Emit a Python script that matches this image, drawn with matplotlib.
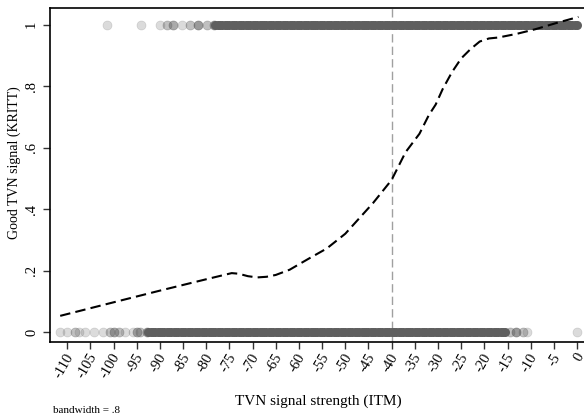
import matplotlib
matplotlib.use("Agg")
import matplotlib.pyplot as plt
import matplotlib.transforms as mtransforms
import numpy as np

# lowess-type fit of good signal on signal strength
curve_x = [-111.5, -100, -90, -80, -74.5, -73, -71, -69, -67, -65, -62, -58, -54, -50,
           -47, -44, -40, -37, -34, -32, -30.5, -29, -27, -25, -23, -21, -19, -17,
           -13, -9, -4.5, 0.3]
curve_y = [0.053, 0.097, 0.135, 0.172, 0.192, 0.19, 0.182, 0.178, 0.18, 0.186, 0.203,
           0.238, 0.272, 0.32, 0.37, 0.42, 0.495, 0.585, 0.645, 0.705, 0.74, 0.79,
           0.845, 0.89, 0.92, 0.945, 0.955, 0.958, 0.97, 0.985, 1.005, 1.025]

# observed signal strengths (value, number of obs) for good = 1 and good = 0
good1_x = [-101.4, -94.0, -89.9, -88.5, -87.1, -85.3, -83.5, -81.7, -79.9, -78.4]
good1_n = [1, 1, 1, 2, 3, 1, 2, 4, 2, 3]
good1_band = (-78, 0)

good0_x = [-111.5, -110.1, -108.3, -107.5, -106.1, -104.3, -102.2, -100.7, -99.8, -98.9,
           -97.5, -95.7, -94.9, -94.3, -92.8, -14.4, -13.1, -11.6, -10.8, 0.0]
good0_n = [1, 1, 2, 1, 1, 1, 1, 2, 3, 2, 1, 1, 3, 2, 3, 2, 4, 2, 1, 1]
good0_band = (-92.5, -15.5)

cutoff = -40
xticks = list(range(-110, 1, 5))
yticks = [0, 0.2, 0.4, 0.6, 0.8, 1]
yticklabels = ["0", ".2", ".4", ".6", ".8", "1"]

plt.rcParams["font.family"] = ["Liberation Serif", "DejaVu Serif"]

fig = plt.figure(figsize=(5.84, 4.18), dpi=100)
ax = fig.add_axes([50 / 584, 1 - 342 / 418, 534 / 584, 334 / 418])

pt_color = "#5f5f5f"
base_alpha = 0.22


def draw_row(xs, ns, band, yval):
    for x, n in zip(xs, ns):
        a = 1 - (1 - base_alpha) ** n
        ax.scatter([x], [yval], s=42, color=pt_color, alpha=a, linewidths=0.5, zorder=2)
    bx = np.arange(band[0], band[1] + 0.01, 0.5)
    ax.scatter(bx, np.full(len(bx), yval), s=42, color=pt_color, linewidths=0, zorder=2)


draw_row(good1_x, good1_n, good1_band, 1)
draw_row(good0_x, good0_n, good0_band, 0)

ax.plot(curve_x, curve_y, color="black", lw=1.5, dashes=(5, 2.5), zorder=3)
ax.axvline(cutoff, color="#a0a0a0", lw=1, dashes=(6, 3), zorder=1)

ax.set_xlim(-113.7, 1.5)
ax.set_ylim(-0.032, 1.054)
ax.set_xticks(xticks)
ax.tick_params(axis="x", labelbottom=False)
# rotated x tick labels, drawn by hand so they can sit a bit left of the tick
lab_tr = ax.get_xaxis_transform() + mtransforms.ScaledTranslation(-2 / 100, -9 / 100, fig.dpi_scale_trans)
for t in xticks:
    ax.text(t, 0, str(t), transform=lab_tr, rotation=60, ha="right", va="top",
            rotation_mode="anchor", fontsize=10.5)
ax.set_yticks(yticks)
ax.set_yticklabels(yticklabels, rotation=90, va="center", fontsize=10.5)
ax.tick_params(length=5, width=1, color="#333333")
ax.spines["right"].set_visible(False)
for s in ["left", "bottom", "top"]:
    ax.spines[s].set_linewidth(1.2)

ax.set_xlabel("TVN signal strength (ITM)", fontsize=11)
ax.xaxis.set_label_coords(268 / 534, -(395 - 342) / 334)
ax.set_ylabel("Good TVN signal (KRITT)", fontsize=10)
ax.yaxis.set_label_coords(-(50 - 21) / 534, (342 - 163) / 334)
fig.text(53 / 584, 1 - 413 / 418, "bandwidth = .8", fontsize=8, va="baseline")

fig.savefig("out.png", dpi=100)
